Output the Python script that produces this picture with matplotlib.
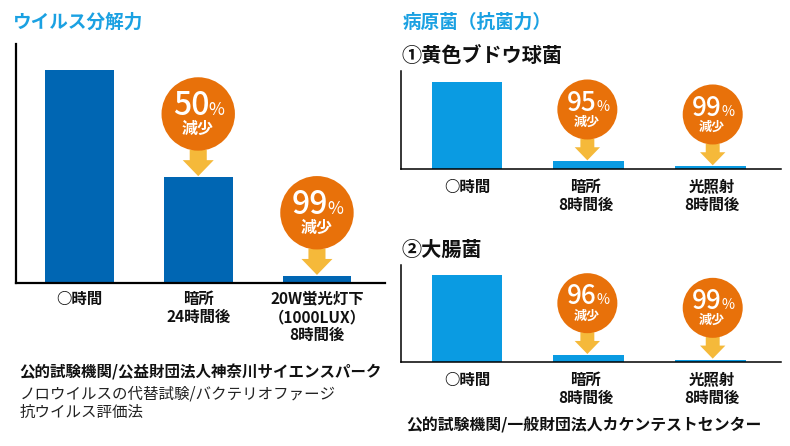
import matplotlib
matplotlib.use('Agg')
import matplotlib.pyplot as plt
from matplotlib.patches import Circle, Polygon

plt.rcParams['font.family'] = ['Noto Sans CJK JP', 'DejaVu Sans']

W, H = 790, 446

virus_labels = ['○時間', '暗所\n24時間後', '20W蛍光灯下\n（1000LUX）\n8時間後']
virus_values = [100, 49.6, 3.3]
virus_reduction = [None, '50', '99']

staph_labels = ['○時間', '暗所\n8時間後', '光照射\n8時間後']
staph_values = [100, 9.1, 3.4]
staph_reduction = [None, '95', '99']

ecoli_labels = ['○時間', '暗所\n8時間後', '光照射\n8時間後']
ecoli_values = [100, 8.3, 3.0]
ecoli_reduction = [None, '96', '99']

DARK_BLUE = '#0066b3'
LIGHT_BLUE = '#0a9be2'
TITLE_BLUE = '#1ba1e2'
ORANGE = '#e8710a'
ARROW = '#f5b93a'


fig = plt.figure(figsize=(W / 100, H / 100), dpi=100)
overlay = fig.add_axes([0, 0, 1, 1], zorder=5)
overlay.set_xlim(0, W)
overlay.set_ylim(H, 0)
overlay.axis('off')


def make_axes(left, right, top, bottom):
    ax = fig.add_axes([left / W, 1 - bottom / H, (right - left) / W, (bottom - top) / H])
    for s in ['top', 'right']:
        ax.spines[s].set_visible(False)
    for s in ['left', 'bottom']:
        ax.spines[s].set_color('black')
    ax.set_yticks([])
    return ax


def badge(bar_x, bar_top, pct, r, dx):
    # bar_x, bar_top are in pixels; the arrow tip sits just above the bar
    k = r / 36.7
    tip = bar_top - 1
    cy = tip - r - 25.5 * k
    cx = bar_x + dx
    half_head = 15.5 * k
    half_shaft = half_head * 0.55
    neck = tip - 16 * k
    overlay.add_patch(Polygon([(cx - half_shaft, cy + r - 1), (cx + half_shaft, cy + r - 1),
                               (cx + half_shaft, neck), (cx + half_head, neck), (cx, tip),
                               (cx - half_head, neck), (cx - half_shaft, neck)],
                              closed=True, fc=ARROW, ec='none', zorder=2))
    overlay.add_patch(Circle((cx, cy), r, fc=ORANGE, ec='none', zorder=3))
    base = cy + 0.04 * r
    overlay.text(cx - 0.68 * r, base, pct, color='white', fontsize=23 * k, fontweight='medium',
                 ha='left', va='baseline', zorder=4)
    overlay.text(cx + 0.29 * r, base, '%', color='white', fontsize=12.5 * k,
                 ha='left', va='baseline', zorder=4)
    overlay.text(cx - 0.02 * r, cy + 0.41 * r, '減少', color='white', fontsize=11.5 * k,
                 fontweight='bold', ha='center', va='center', zorder=4)


def bar_chart(ax, labels, values, reduction, color, r, dxs, label_dxs, spine_w, pad):
    xs = list(range(len(values)))
    bars = ax.bar(xs, values, width=0.58, color=color)
    ax.set_xticks([x + d for x, d in zip(xs, label_dxs)])
    ax.set_xticklabels(labels, fontsize=11.1, fontweight='bold', color='#111111', linespacing=1.13)
    ax.tick_params(axis='x', length=0, pad=pad)
    for s in ['left', 'bottom']:
        ax.spines[s].set_linewidth(spine_w)
    fig.canvas.draw()
    for b, pct, dx in zip(bars, reduction, dxs):
        if pct is None:
            continue
        px, py = ax.transData.transform((b.get_x() + b.get_width() / 2, b.get_height()))
        badge(px, H - py, pct, r, dx)


ax1 = make_axes(15.5, 385, 44, 283)
ax1.set_xlim(-0.539, 2.573)
ax1.set_ylim(0, 112)
bar_chart(ax1, virus_labels, virus_values, virus_reduction, DARK_BLUE, 36.7,
          [0, 0, 0], [0, 0, 0], 1.6, 6)

ax2 = make_axes(401, 781, 71, 169.3)
ax2.set_xlim(-0.5425, 2.581)
ax2.set_ylim(0, 112.2)
bar_chart(ax2, staph_labels, staph_values, staph_reduction, LIGHT_BLUE, 30,
          [0, -1.3, 2.4], [0, -0.025, 0.012], 1.1, 7)

ax3 = make_axes(401, 781, 264.7, 362.3)
ax3.set_xlim(-0.5425, 2.581)
ax3.set_ylim(0, 111.4)
bar_chart(ax3, ecoli_labels, ecoli_values, ecoli_reduction, LIGHT_BLUE, 30,
          [0, -1.3, 2.4], [0, -0.025, 0.012], 1.1, 7)

overlay.text(13, 22, 'ウイルス分解力', color=TITLE_BLUE, fontsize=13.4, fontweight='bold', va='center')
overlay.text(403, 22, '病原菌（抗菌力）', color=TITLE_BLUE, fontsize=13.4, fontweight='bold', va='center')
overlay.text(401, 55, '①黄色ブドウ球菌', color='#111111', fontsize=14.5, fontweight='bold', va='center')
overlay.text(401, 249, '②大腸菌', color='#111111', fontsize=14.5, fontweight='bold', va='center')
overlay.text(19, 372, '公的試験機関/公益財団法人神奈川サイエンスパーク', color='#111111',
             fontsize=11.15, fontweight='bold', va='center')
overlay.text(20, 394, 'ノロウイルスの代替試験/バクテリオファージ', color='#222222', fontsize=11.15, va='center')
overlay.text(20, 412, '抗ウイルス評価法', color='#222222', fontsize=11.15, va='center')
overlay.text(406, 425.5, '公的試験機関/一般財団法人カケンテストセンター', color='#111111',
             fontsize=11.4, fontweight='bold', va='center')

fig.savefig('out.png', dpi=100)
